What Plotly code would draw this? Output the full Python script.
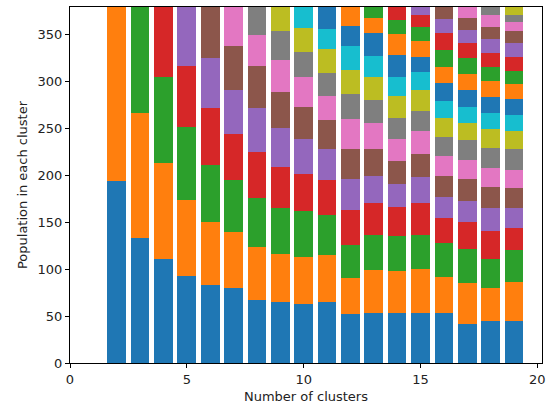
import plotly.graph_objects as go

# Cluster sizes for each number of clusters k (largest-first order as assigned)
k2 = [194, 185]
k3 = [133, 133, 113]
k4 = [111, 102, 91, 75]
k5 = [93, 81, 77, 65, 63]
k6 = [83, 67, 61, 60, 54, 54]
k7 = [80, 60, 55, 49, 47, 47, 41]
k8 = [67, 56, 53, 49, 46, 45, 33, 30]
k9 = [65, 51, 49, 44, 41, 38, 35, 30, 26]
k10 = [63, 50, 49, 39, 37, 35, 31, 27, 26, 22]
k11 = [65, 50, 43, 37, 33, 31, 25, 25, 25, 22, 23]
k12 = [52, 38, 36, 37, 33, 32, 32, 26, 26, 25, 22, 20]
k13 = [53, 46, 37, 34, 29, 29, 27, 25, 25, 22, 24, 16, 12]
k14 = [53, 45, 37, 31, 25, 24, 24, 22, 23, 21, 23, 22, 15, 14]
k15 = [53, 47, 36, 34, 28, 25, 24, 21, 23, 19, 16, 17, 15, 13, 8]
k16 = [53, 39, 36, 26, 23, 22, 21, 21, 20, 18, 19, 17, 18, 18, 15, 13]
k17 = [42, 43, 36, 29, 22, 24, 20, 21, 19, 17, 18, 17, 17, 16, 14, 12, 12]
k18 = [45, 35, 31, 30, 24, 22, 21, 21, 20, 17, 17, 17, 15, 15, 15, 13, 12, 9]
k19 = [45, 41, 34, 24, 21, 21, 20, 22, 19, 17, 17, 16, 14, 15, 15, 12, 10, 8, 8]

cluster_sizes = {2: k2, 3: k3, 4: k4, 5: k5, 6: k6, 7: k7, 8: k8, 9: k9,
                 10: k10, 11: k11, 12: k12, 13: k13, 14: k14, 15: k15,
                 16: k16, 17: k17, 18: k18, 19: k19}
total_population = 379

tab10 = ["#1f77b4", "#ff7f0e", "#2ca02c", "#d62728", "#9467bd",
         "#8c564b", "#e377c2", "#7f7f7f", "#bcbd22", "#17becf"]

fig = go.Figure()
max_k = max(cluster_sizes)
# One trace per cluster index; stacked over every k that has that cluster
for j in range(max_k):
    xs = [k for k, sizes in cluster_sizes.items() if len(sizes) > j]
    ys = [cluster_sizes[k][j] for k in xs]
    fig.add_trace(go.Bar(
        x=xs, y=ys, width=0.8,
        marker=dict(color=tab10[j % 10], line=dict(width=0)),
        showlegend=False, hoverinfo="x+y",
    ))

font = dict(family="DejaVu Sans", size=13, color="#222")
axis_style = dict(
    showline=True, linecolor="black", linewidth=1, mirror=True,
    ticks="outside", ticklen=4, tickwidth=1, tickcolor="black",
    showgrid=False, zeroline=False,
    tickfont=font,
)

fig.update_layout(
    barmode="stack",
    width=550, height=411,
    margin=dict(l=70, r=4, t=7, b=48),
    plot_bgcolor="white", paper_bgcolor="white",
    bargap=0,
    xaxis=dict(range=[0, 20.2], tickvals=[0, 5, 10, 15, 20],
               title=dict(text="Number of clusters", standoff=6, font=font),
               **axis_style),
    yaxis=dict(range=[0, total_population], tickvals=[0, 50, 100, 150, 200, 250, 300, 350],
               title=dict(text="Population in each cluster", standoff=7, font=font),
               **axis_style),
)

fig.write_html("out.html")
